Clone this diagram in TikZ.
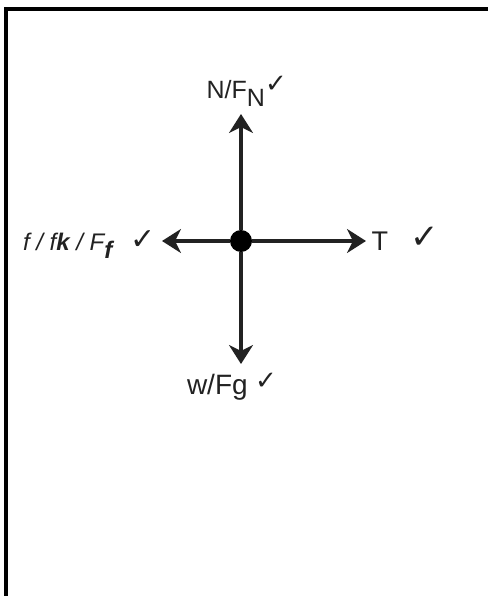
\documentclass[tikz,border=0pt]{standalone}
\usepackage{fontspec}
\setmainfont{Liberation Sans}
\newfontfamily\chkfont{DejaVu Sans}
\usetikzlibrary{arrows.meta}
\definecolor{ink}{HTML}{222222}
\tikzset{
  force/.style={line width=3.2pt, draw=ink, -{Stealth[length=19pt,width=24pt,inset=6pt]}},
  lbl/.style={anchor=base west, inner sep=0pt, outer sep=0pt, text=ink},
  chk/.style={anchor=base west, inner sep=0pt, outer sep=0pt, text=ink}
}
\newcommand{\ck}[1]{{\chkfont\fontsize{#1}{#1}\selectfont ✓}}
\begin{document}
\begin{tikzpicture}[x=1pt,y=-1pt]
\useasboundingbox (0,0) rectangle (488,596);
% frame (top and left sides only)
\draw[line width=4.5pt, line join=miter] (6,596) -- (6,8.8) -- (488,8.8);
% centre and tips
\node[circle, fill=black, inner sep=0pt, minimum size=22pt] (c) at (241,241) {};
\coordinate (up) at (241,114);
\coordinate (dn) at (241,364);
\coordinate (lt) at (162,241);
\coordinate (rt) at (366,241);
\draw[force] (c) -- (up);
\draw[force] (c) -- (dn);
\draw[force] (c) -- (lt);
\draw[force] (c) -- (rt);
% labels
\node[lbl, font=\fontsize{25}{25}\selectfont] (nl) at (206.5,99) {N/F\raisebox{-8pt}{N}};
\node[chk] (nc) at (265,93) {\ck{26}};
\node[lbl, font=\fontsize{24}{24}\selectfont\itshape] (fl) at (23,250) {f / f\textbf{k} / F\raisebox{-8pt}{\textbf{f}}};
\node[chk] (fc) at (130,249) {\ck{30}};
\node[lbl, font=\fontsize{27}{27}\selectfont] (tl) at (371.5,250) {T};
\node[chk] (tc) at (410,248) {\ck{34}};
\node[lbl, font=\fontsize{28}{28}\selectfont] (wl) at (187,394) {w/Fg};
\node[chk] (wc) at (255,389) {\ck{26}};
\end{tikzpicture}
\end{document}
